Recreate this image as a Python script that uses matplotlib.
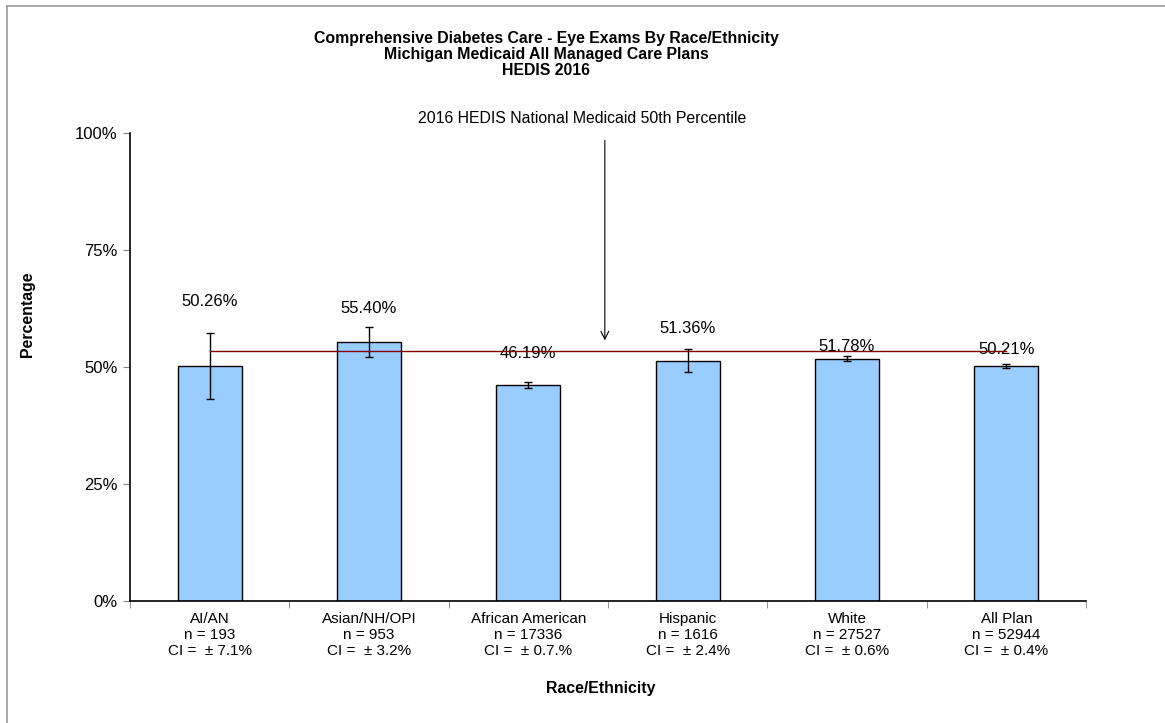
import matplotlib.pyplot as plt
from matplotlib.lines import Line2D
import numpy as np

plt.rcParams['font.family'] = ['Liberation Sans', 'DejaVu Sans']

# data
groups = ['AI/AN', 'Asian/NH/OPI', 'African American', 'Hispanic', 'White', 'All Plan']
n_vals = [193, 953, 17336, 1616, 27527, 52944]
ci_text = ['± 7.1%', '± 3.2%', '± 0.7.%', '± 2.4%', '± 0.6%', '± 0.4%']
rates = [50.26, 55.40, 46.19, 51.36, 51.78, 50.21]
ci = [7.1, 3.2, 0.7, 2.4, 0.6, 0.4]
benchmark = 53.4
benchmark_label = '2016 HEDIS National Medicaid 50th Percentile'

# how far above the error bar top each value label sits (points)
label_gap = [17, 8, 15, 10, 1.5, 5]

fig = plt.figure(figsize=(11.65, 7.23), dpi=100)
ax = fig.add_axes([130 / 1165, 1 - 601 / 723, 956 / 1165, 468 / 723])

x = np.arange(len(groups))
ax.bar(x, rates, width=0.4, color='#99CCFF', edgecolor='black', linewidth=1.0, zorder=2)
ax.errorbar(x, rates, yerr=ci, fmt='none', ecolor='black', elinewidth=1.0,
            capsize=3, capthick=1.0, zorder=3)

# benchmark line, from first to last bar centre
ax.plot([x[0], x[-1]], [benchmark, benchmark], color='#800000', linewidth=1.0, zorder=4)

for xi, r, c, g in zip(x, rates, ci, label_gap):
    ax.annotate(f'{r:.2f}%', (xi, r + c), xytext=(0, g), textcoords='offset points',
                ha='center', va='bottom', fontsize=12)

ax.annotate('', xy=(2.48, benchmark + 1.7), xytext=(2.48, 99),
            arrowprops=dict(arrowstyle='->', color='black', lw=0.8, mutation_scale=14))
ax.text(2.34, 101.6, benchmark_label, ha='center', va='bottom', fontsize=11.4)

ax.set_xlim(-0.5, len(groups) - 0.5)
ax.set_ylim(0, 100)
ax.set_yticks([0, 25, 50, 75, 100])
ax.set_yticklabels(['0%', '25%', '50%', '75%', '100%'], fontsize=12)
ax.set_xticks(x)
ax.set_xticklabels([f'{g}\nn = {n}\nCI =  {c}' for g, n, c in zip(groups, n_vals, ci_text)],
                   fontsize=11, linespacing=1.17)
ax.tick_params(axis='x', length=0, pad=8)
ax.set_xticks(np.arange(len(groups) + 1) - 0.5, minor=True)
ax.tick_params(axis='x', which='minor', length=5, color='gray')
ax.tick_params(axis='y', length=5, color='gray', pad=4)

for s in ['top', 'right']:
    ax.spines[s].set_visible(False)
ax.spines['left'].set_linewidth(1.2)
ax.spines['bottom'].set_linewidth(1.2)

fig.text(28 / 1165, 1 - 314 / 723, 'Percentage', rotation=90, ha='center', va='center',
         fontsize=11.4, fontweight='bold')
fig.text(601 / 1165, 1 - 688 / 723, 'Race/Ethnicity', ha='center', va='center',
         fontsize=11.4, fontweight='bold')

fig.text(546 / 1165, 1 - 54.5 / 723, 'Comprehensive Diabetes Care - Eye Exams By Race/Ethnicity\n'
         'Michigan Medicaid All Managed Care Plans\nHEDIS 2016',
         ha='center', va='center', fontsize=11.4, fontweight='bold', linespacing=1.09)

# gray border on top and left
fig.add_artist(Line2D([7 / 1165, 1], [1 - 6 / 723, 1 - 6 / 723], color='#999999', lw=1.2))
fig.add_artist(Line2D([7 / 1165, 7 / 1165], [0, 1 - 6 / 723], color='#999999', lw=1.2))

fig.savefig('out.png', dpi=100)
